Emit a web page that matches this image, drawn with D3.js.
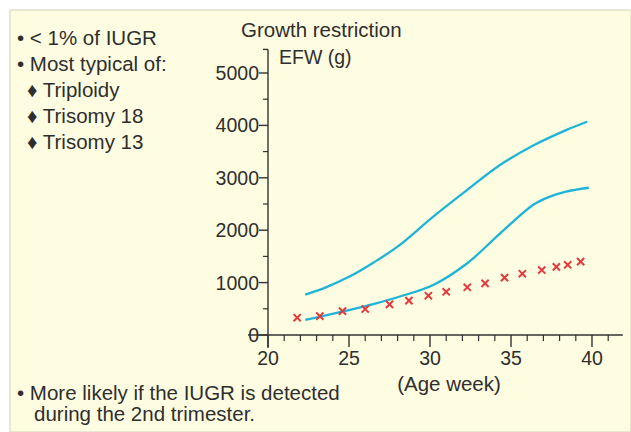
<!DOCTYPE html>
<html><head><meta charset="utf-8">
<script src="https://cdn.jsdelivr.net/npm/d3@7"></script>
<style>body{margin:0;background:#fff}svg{display:block}text{font-family:"Liberation Sans",Arial,sans-serif;fill:#2e2e2e}</style>
</head><body>
<script>
const upperWeeks = [22.3, 23.5, 25.0, 26.5, 28.1, 30.2, 32.3, 34.3, 36.4, 38.4, 39.7];
const upperEFW   = [770, 900, 1110, 1380, 1710, 2260, 2770, 3240, 3620, 3910, 4070];
const lowerWeeks = [22.3, 23.5, 25.0, 26.5, 28.1, 30.2, 32.3, 34.3, 36.4, 37.4, 38.4, 39.8];
const lowerEFW   = [290, 370, 475, 590, 730, 955, 1370, 1930, 2490, 2640, 2735, 2810];
const crossWeeks = [21.8, 23.2, 24.6, 26.0, 27.5, 28.7, 29.9, 31.0, 32.3, 33.4, 34.6, 35.7, 36.9, 37.8, 38.5, 39.3];
const crossEFW   = [330, 360, 455, 495, 585, 655, 750, 825, 910, 985, 1095, 1170, 1240, 1300, 1340, 1400];
const yTicks = [0, 1000, 2000, 3000, 4000, 5000];
const xTicks = [20, 25, 30, 35, 40];
const leftNotes = ["\u2022 < 1% of IUGR", "\u2022 Most typical of:", "\u2666 Triploidy", "\u2666 Trisomy 18", "\u2666 Trisomy 13"];
const bottomNotes = ["\u2022 More likely if the IUGR is detected", "during the 2nd trimester."];
const title = "Growth restriction";
const yLabel = "EFW (g)";
const xLabel = "(Age week)";

const W = 631, H = 432, FS = 19.5, FT = 20.5;
const svg = d3.select("body").append("svg").attr("width", W).attr("height", H);
svg.append("rect").attr("x", 10).attr("y", 10).attr("width", W - 10).attr("height", H - 10)
  .attr("fill", "#fffde1").attr("stroke", "#e4e0cc").attr("stroke-width", 1.5);

const x = d3.scaleLinear().domain([20, 40]).range([268, 592]);
const y = d3.scaleLinear().domain([0, 5000]).range([335, 73]);

// y axis
const yAxisG = svg.append("g").attr("transform", "translate(268,0)");
yAxisG.append("line").attr("x1", 0).attr("x2", 0).attr("y1", y(5450)).attr("y2", 348).attr("stroke", "#333").attr("stroke-width", 1.4);
yAxisG.append("line").attr("x1", -5).attr("x2", 0).attr("y1", y(5450)).attr("y2", y(5450)).attr("stroke", "#333").attr("stroke-width", 1.4);
yAxisG.selectAll(".minor").data(d3.range(500, 5001, 1000)).join("line")
  .attr("x1", -5).attr("x2", 0).attr("y1", d => y(d)).attr("y2", d => y(d)).attr("stroke", "#333").attr("stroke-width", 1.2);
yAxisG.selectAll(".major").data(yTicks).join("line")
  .attr("x1", -9).attr("x2", 0).attr("y1", d => y(d)).attr("y2", d => y(d)).attr("stroke", "#333").attr("stroke-width", 1.4);
yAxisG.selectAll("text").data(yTicks).join("text")
  .attr("x", -9).attr("y", d => y(d) + 7).attr("text-anchor", "end").attr("font-size", FS).text(d => d);

// x axis
const xAxisG = svg.append("g").attr("transform", "translate(0,335)");
xAxisG.append("line").attr("x1", 248).attr("x2", x(41.9)).attr("y1", 0).attr("y2", 0).attr("stroke", "#333").attr("stroke-width", 1.4);
xAxisG.selectAll(".minor").data(d3.range(21, 42, 1).filter(d => d % 5 !== 0)).join("line")
  .attr("x1", d => x(d)).attr("x2", d => x(d)).attr("y1", 0).attr("y2", 6).attr("stroke", "#333").attr("stroke-width", 1.2);
xAxisG.selectAll(".major").data(xTicks).join("line")
  .attr("x1", d => x(d)).attr("x2", d => x(d)).attr("y1", 0).attr("y2", 12).attr("stroke", "#333").attr("stroke-width", 1.4);
xAxisG.selectAll("text").data(xTicks).join("text")
  .attr("x", d => x(d)).attr("y", 30).attr("text-anchor", "middle").attr("font-size", FS).text(d => d);

// curves
const line = d3.line().x(d => x(d[0])).y(d => y(d[1])).curve(d3.curveCatmullRom.alpha(0.5));
svg.append("path").attr("d", line(d3.zip(upperWeeks, upperEFW))).attr("fill", "none").attr("stroke", "#1db4d9").attr("stroke-width", 2.3);
svg.append("path").attr("d", line(d3.zip(lowerWeeks, lowerEFW))).attr("fill", "none").attr("stroke", "#1db4d9").attr("stroke-width", 2.3);

// crosses
const s = 3.6;
svg.append("g").selectAll("path").data(d3.zip(crossWeeks, crossEFW)).join("path")
  .attr("d", d => { const cx = x(d[0]), cy = y(d[1]); return `M${cx-s},${cy-s}L${cx+s},${cy+s}M${cx-s},${cy+s}L${cx+s},${cy-s}`; })
  .attr("stroke", "#e23a3f").attr("stroke-width", 2);

// texts
svg.append("text").attr("x", 241).attr("y", 37).attr("font-size", FT).text(title);
svg.append("text").attr("x", 279).attr("y", 64).attr("font-size", FS).text(yLabel);
svg.append("text").attr("x", 449).attr("y", 391).attr("text-anchor", "middle").attr("font-size", FT).text(xLabel);
const lx = [17, 17, 27, 27, 27];
svg.selectAll(".ln").data(leftNotes).join("text")
  .attr("x", (d, i) => lx[i]).attr("y", (d, i) => 45 + i * 26).attr("font-size", FT).text(d => d);
svg.selectAll(".bn").data(bottomNotes).join("text")
  .attr("x", (d, i) => i === 0 ? 17 : 34).attr("y", (d, i) => 400 + i * 21).attr("font-size", FT).text(d => d);
</script>
</body></html>
